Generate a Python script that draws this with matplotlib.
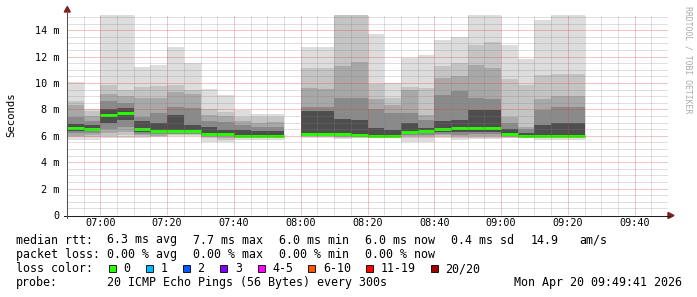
import numpy as np
import matplotlib
matplotlib.use("Agg")
import matplotlib.pyplot as plt
from matplotlib.patches import Polygon, Rectangle

# ---------------- data (ms) ----------------
nan = np.nan
times = ["06:50", "06:55", "07:00", "07:05", "07:10", "07:15", "07:20", "07:25",
         "07:30", "07:35", "07:40", "07:45", "07:50", "07:55",
         "08:00", "08:05", "08:10", "08:15", "08:20", "08:25", "08:30", "08:35",
         "08:40", "08:45", "08:50", "08:55", "09:00", "09:05", "09:10", "09:15", "09:20"]

ping_max = [10.1, 8.05, 15.15, 15.15, 11.2, 11.35, 12.7, 11.55, 9.55, 9.1, 7.95, 7.65, 7.65, nan,
            12.7, 12.7, 15.15, 15.15, 13.7, 10.0, 11.9, 12.15, 13.25, 13.45, 15.15, 15.15,
            12.9, 11.8, 14.75, 15.15, 15.15]
ping_p18 = [8.6, 7.85, 9.85, 9.5, 9.7, 9.8, 9.85, 9.5, 8.0, 7.8, 7.45, 7.4, 7.4, nan,
            11.1, 11.1, 15.15, 15.15, 9.95, 8.85, 9.7, 9.6, 11.3, 11.5, 12.9, 13.1,
            10.3, 9.85, 10.6, 10.7, 10.7]
ping_p16 = [8.3, 7.5, 9.2, 9.0, 8.9, 8.85, 9.3, 9.2, 7.6, 7.5, 7.1, 7.0, 7.05, nan,
            9.6, 9.55, 11.3, 11.6, 8.8, 8.3, 9.5, 7.6, 10.4, 10.5, 11.4, 11.1,
            7.4, 6.7, 8.8, 9.05, 9.05]
ping_p14 = [7.4, 7.1, 8.6, 8.5, 7.45, 7.7, 8.2, 8.1, 7.1, 7.05, 6.8, 6.65, 6.7, nan,
            8.2, 8.2, 8.85, 8.9, 8.0, 7.7, 7.7, 7.2, 9.1, 9.4, 8.85, 8.8,
            7.0, 6.5, 7.95, 8.15, 8.15]
ping_p12 = [6.9, 6.8, 8.0, 8.1, 7.1, 7.0, 7.6, 6.8, 6.7, 6.45, 6.45, 6.4, 6.35, nan,
            7.9, 7.9, 7.25, 7.2, 6.6, 6.45, 7.0, 6.6, 7.1, 7.2, 7.95, 7.95,
            6.5, 6.2, 6.8, 7.0, 7.0]
median = [6.6, 6.5, 7.55, 7.75, 6.55, 6.35, 6.4, 6.4, 6.15, 6.1, 6.0, 6.0, 6.0, nan,
          6.15, 6.15, 6.1, 6.05, 6.0, 6.0, 6.3, 6.35, 6.5, 6.6, 6.6, 6.6,
          6.15, 6.0, 6.0, 6.0, 6.0]
ping_p9 = [6.4, 6.35, 7.0, 7.2, 6.3, 6.2, 6.25, 6.25, 6.05, 6.0, 5.95, 5.95, 5.95, nan,
           6.05, 6.05, 6.0, 6.0, 5.97, 5.97, 6.15, 6.2, 6.3, 6.25, 6.3, 6.3,
           6.0, 5.97, 5.97, 5.97, 5.97]
ping_p7 = [6.2, 6.2, 6.5, 6.7, 6.15, 6.1, 6.15, 6.15, 6.0, 5.95, 5.9, 5.9, 5.9, nan,
           6.0, 6.0, 5.95, 5.95, 5.95, 5.95, 6.05, 6.05, 6.15, 6.05, 6.1, 6.1,
           5.95, 5.95, 5.95, 5.95, 5.95]
ping_p5 = [6.0, 6.05, 6.2, 6.3, 6.05, 6.0, 6.1, 6.1, 5.9, 5.85, 5.85, 5.85, 5.85, nan,
           5.95, 5.95, 5.9, 5.9, 5.9, 5.9, 5.95, 5.95, 6.05, 5.95, 5.95, 5.95,
           5.9, 5.9, 5.9, 5.9, 5.9]
ping_p3 = [5.9, 5.9, 6.0, 6.05, 5.95, 5.95, 6.05, 6.05, 5.8, 5.7, 5.8, 5.8, 5.8, nan,
           5.9, 5.9, 5.85, 5.85, 5.85, 5.85, 5.8, 5.8, 5.95, 5.85, 5.85, 5.85,
           5.85, 5.85, 5.8, 5.8, 5.8]
ping_min = [5.7, 5.7, 5.8, 5.85, 5.8, 5.9, 6.0, 6.0, 5.55, 5.5, 5.7, 5.7, 5.7, nan,
            5.8, 5.8, 5.75, 5.8, 5.8, 5.8, 5.55, 5.55, 5.85, 5.7, 5.75, 5.75,
            5.8, 5.8, 5.65, 5.65, 5.65]

x_tick_labels = ["07:00", "07:20", "07:40", "08:00", "08:20", "08:40", "09:00", "09:20", "09:40"]
y_tick_values = [0, 2, 4, 6, 8, 10, 12, 14]
y_tick_labels = ["0", "2 m", "4 m", "6 m", "8 m", "10 m", "12 m", "14 m"]

rtt_avg, rtt_max, rtt_min, rtt_now, rtt_sd, am_s = 6.3, 7.7, 6.0, 6.0, 0.4, 14.9
loss_avg, loss_max, loss_min, loss_now = 0.0, 0.0, 0.0, 0.0
loss_labels = ["0", "1", "2", "3", "4-5", "6-10", "11-19", "20/20"]
loss_colors = ["#26ff00", "#00b8ff", "#0059ff", "#7e00ff", "#ff00ff", "#ff5500", "#ff0000", "#a10000"]
probe_text = "20 ICMP Echo Pings (56 Bytes) every 300s"
date_text = "Mon Apr 20 09:49:41 2026"

# ---------------- figure ----------------
W, H = 697, 297
FONT = "DejaVu Sans Mono"
plt.rcParams["font.family"] = FONT
fig = plt.figure(figsize=(W / 100, H / 100), dpi=100, facecolor="white")

def fx(x):
    return x / W

def fy(y):
    return 1 - y / H

ax = fig.add_axes([fx(67), fy(215), 601 / W, 200 / H])
ax.set_facecolor("white")

def to_min(s):
    h, m = s.split(":")
    return int(h) * 60 + int(m) - (6 * 60 + 50)

t = np.array([to_min(s) for s in times], dtype=float)

bands = [
    (ping_min, ping_max, "#dddddd"),
    (ping_p3, ping_p18, "#c4c4c4"),
    (ping_p5, ping_p16, "#a8a8a8"),
    (ping_p7, ping_p14, "#8a8a8a"),
    (ping_p9, ping_p12, "#4e4e4e"),
]
for lo, hi, col in bands:
    lo = np.array(lo, dtype=float)
    hi = np.array(hi, dtype=float)
    ok = ~np.isnan(lo)
    ax.bar(t[ok], (hi - lo)[ok], bottom=lo[ok], width=5, align="edge",
           color=col, linewidth=0, zorder=1)

med = np.array(median, dtype=float)
ok = ~np.isnan(med)
ax.hlines(med[ok], t[ok], t[ok] + 5, colors="#26ff00", linewidth=2.1, zorder=2)

ax.set_xlim(0, 180)
ax.set_ylim(0, 15.15)
major_x = [to_min(s) for s in x_tick_labels]
ax.set_xticks(major_x)
ax.set_xticklabels(x_tick_labels)
ax.set_yticks(y_tick_values)
ax.set_yticklabels(y_tick_labels)
ax.tick_params(which="both", length=0)
ax.tick_params(axis="x", pad=2.2, labelsize=7.3)
ax.tick_params(axis="y", pad=5.5, labelsize=7.3)
for s in ax.spines.values():
    s.set_visible(False)

# grid (drawn on top of the smoke, dotted)
dot = (0, (1, 1))
for xv in np.arange(5, 180, 5):
    if xv in major_x:
        continue
    ax.axvline(xv, color="#808080", alpha=0.5, lw=0.72, ls=dot, zorder=3, snap=True)
for yv in np.arange(0.5, 15.1, 0.5):
    if yv in y_tick_values:
        continue
    ax.axhline(yv, color="#808080", alpha=0.5, lw=0.72, ls=dot, zorder=3, snap=True)
for xv in major_x:
    ax.axvline(xv, color="#d84040", alpha=0.6, lw=0.72, ls=dot, zorder=3, snap=True)
for yv in y_tick_values[1:]:
    ax.axhline(yv, color="#d84040", alpha=0.6, lw=0.72, ls=dot, zorder=3, snap=True)

# axis lines and arrows
fig.add_artist(plt.Line2D([fx(64), fx(670)], [fy(215.5), fy(215.5)], color="#1f1f1f", lw=0.75))
fig.add_artist(plt.Line2D([fx(67.3), fx(67.3)], [fy(218), fy(11)], color="#555555", lw=0.75))
fig.add_artist(Polygon([(fx(668), fy(212.5)), (fx(668), fy(218.5)), (fx(674), fy(215.5))],
                       closed=True, color="#7f1f1f", transform=fig.transFigure))
fig.add_artist(Polygon([(fx(64.3), fy(12)), (fx(70.3), fy(12)), (fx(67.3), fy(6.5))],
                       closed=True, color="#7f1f1f", transform=fig.transFigure))

# y label and watermark
fig.text(fx(11), fy(115), "Seconds", rotation=90, ha="center", va="center", fontsize=7.7, family=FONT)
fig.text(fx(688), fy(60), "RRDTOOL / TOBI OETIKER", rotation=270, ha="center", va="center",
         fontsize=5.9, color="#aaaaaa", family=FONT)

# legend
LS = 8.4
b1, b2, b3, b4 = 243.5, 257.8, 272.0, 286.3

def txt(x, y, s, **kw):
    fig.text(fx(x), fy(y), s, fontsize=LS, family=FONT, va="baseline", ha="left", **kw)

txt(15.5, b1, "median rtt:")
item_x = [107, 193, 279, 365, 451]
items = [f"{rtt_avg:.1f} ms avg", f"{rtt_max:.1f} ms max", f"{rtt_min:.1f} ms min",
         f"{rtt_now:.1f} ms now", f"{rtt_sd:.1f} ms sd"]
for x, s in zip(item_x, items):
    txt(x, b1, s)
txt(530.5, b1, f"{am_s:.1f}")
txt(579, b1, "am/s")

txt(15.5, b2, "packet loss:")
items = [f"{loss_avg:.2f} % avg", f"{loss_max:.2f} % max", f"{loss_min:.2f} % min",
         f"{loss_now:.2f} % now"]
for x, s in zip(item_x, items):
    txt(x, b2, s)

txt(15.5, b3, "loss color:")
box_x = [108.5, 146, 183, 220.3, 257.7, 308.4, 366.3, 430.8]
for bx, lab, col in zip(box_x, loss_labels, loss_colors):
    fig.add_artist(Rectangle((fx(bx), fy(b3 + 0.3)), 7 / W, 7 / H, transform=fig.transFigure,
                             facecolor=col, edgecolor="black", linewidth=0.6))
    txt(bx + 14.5, b3, lab)

txt(15.5, b4, "probe:")
txt(107, b4, probe_text)
fig.text(fx(681.5), fy(b4), date_text, fontsize=LS, family=FONT, va="baseline", ha="right")

fig.savefig("out.png", dpi=100, facecolor="white")
